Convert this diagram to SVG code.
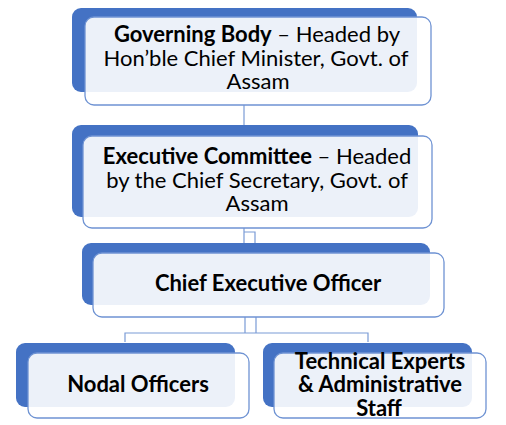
<svg xmlns="http://www.w3.org/2000/svg" width="506" height="425" viewBox="0 0 506 425">
<style>
.back{fill:#4472C4}
.front{fill:#ffffff;fill-opacity:0.9;stroke:#6F93D3;stroke-width:1.3}
.t{font-family:Lato,"Open Sans","Liberation Sans",sans-serif;font-size:22px;fill:#000;text-anchor:middle}
.b{font-weight:bold}
.c{fill:none;stroke:#7A9BD6;stroke-width:1.2}
</style>
<rect width="506" height="425" fill="#ffffff"/>
<g id="connectors">
<path class="c" d="M244,105V126"/>
<path class="c" d="M244,228V243M244,232H255V243"/>
<path class="c" d="M245,317V333H256V317M125,342V333H368V342"/>
</g>
<g id="governing-body">
<rect class="back" x="72" y="8" width="345" height="84" rx="9"/>
<rect class="front" x="85" y="17" width="346" height="88" rx="9"/>
<text class="t" x="257" y="42"><tspan class="b">Governing Body</tspan> – Headed by</text>
<text class="t" x="256" y="66">Hon’ble Chief Minister, Govt. of</text>
<text class="t" x="258" y="89">Assam</text>
</g>
<g id="executive-committee">
<rect class="back" x="72" y="125" width="346" height="92" rx="9"/>
<rect class="front" x="83" y="136" width="349" height="92" rx="9"/>
<text class="t" x="257" y="164"><tspan class="b">Executive Committee</tspan> – Headed</text>
<text class="t" x="257" y="188">by the Chief Secretary, Govt. of</text>
<text class="t" x="257" y="211">Assam</text>
</g>
<g id="ceo">
<rect class="back" x="82" y="243" width="348" height="62" rx="9"/>
<rect class="front" x="93" y="253" width="351" height="64" rx="9"/>
<text class="t b" x="268" y="291">Chief Executive Officer</text>
</g>
<g id="nodal-officers">
<rect class="back" x="16" y="343" width="219" height="64" rx="9"/>
<rect class="front" x="28" y="353" width="221" height="65" rx="9"/>
<text class="t b" x="138" y="392">Nodal Officers</text>
</g>
<g id="technical-experts">
<rect class="back" x="263" y="343" width="209" height="64" rx="9"/>
<rect class="front" x="274" y="353" width="212" height="65" rx="9"/>
<text class="t b" x="380" y="369">Technical Experts</text>
<text class="t b" x="380" y="392">&amp; Administrative</text>
<text class="t b" x="379" y="416">Staff</text>
</g>
</svg>
